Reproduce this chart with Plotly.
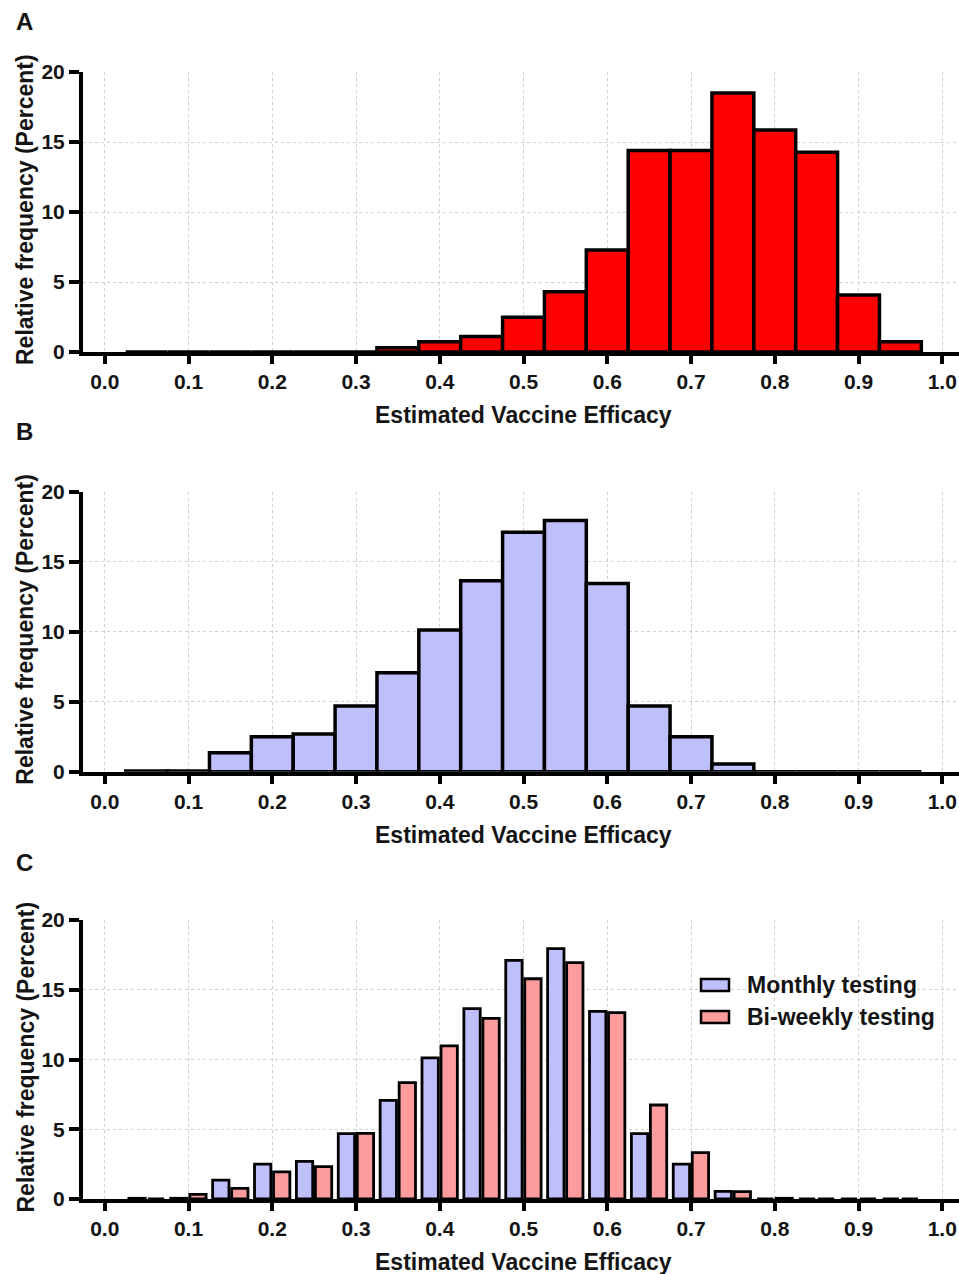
import plotly.graph_objects as go

# ---------------- data ----------------
centers = [0.05, 0.10, 0.15, 0.20, 0.25, 0.30, 0.35, 0.40, 0.45, 0.50,
           0.55, 0.60, 0.65, 0.70, 0.75, 0.80, 0.85, 0.90, 0.95]

panel_a = [0, 0, 0, 0, 0, 0, 0.3, 0.74, 1.1, 2.48,
           4.3, 7.29, 14.4, 14.4, 18.5, 15.86, 14.26, 4.07, 0.74]

monthly = [0.05, 0.05, 1.36, 2.5, 2.69, 4.69, 7.07, 10.12, 13.64, 17.1,
           17.95, 13.45, 4.69, 2.5, 0.55, 0, 0, 0, 0]

biweekly = [0, 0.33, 0.76, 1.94, 2.32, 4.7, 8.34, 10.97, 12.95, 15.79,
            16.94, 13.36, 6.74, 3.32, 0.53, 0.05, 0, 0, 0]

x_ticks = [0.0, 0.1, 0.2, 0.3, 0.4, 0.5, 0.6, 0.7, 0.8, 0.9, 1.0]
x_tick_labels = ["0.0", "0.1", "0.2", "0.3", "0.4", "0.5", "0.6", "0.7", "0.8", "0.9", "1.0"]
y_ticks = [0, 5, 10, 15, 20]

panel_letters = ["A", "B", "C"]
x_title = "Estimated Vaccine Efficacy"
y_title = "Relative frequency (Percent)"
series_names = ["Monthly testing", "Bi-weekly testing"]

# ---------------- style ----------------
FONT = "Arial, Liberation Sans, Helvetica, sans-serif"
TXT = "#141414"
RED = "#ff0000"
BLUE = "#bfbffb"
PINK = "#fc9c9c"
EDGE = "#000000"

W, H = 959, 1274
PLOT_L, PLOT_R, PLOT_T, PLOT_B = 83, 959, 72, 1199
ML, MR, MT, MB = PLOT_L, W - PLOT_R, PLOT_T, H - PLOT_B
PH = H - MT - MB
PW = W - ML - MR

def py(px):  # window px -> paper y
    return 1 - (px - PLOT_T) / PH

def px_x(px):  # window px -> paper x
    return (px - PLOT_L) / PW

domains = [
    [py(352), py(72)],
    [py(771.7), py(491.7)],
    [py(1199), py(920)],
]

fig = go.Figure()

fig.add_trace(go.Bar(x=centers, y=panel_a, width=0.05, marker=dict(color=RED, line=dict(color=EDGE, width=3.5)),
                     xaxis="x", yaxis="y", showlegend=False))
fig.add_trace(go.Bar(x=centers, y=monthly, width=0.05, marker=dict(color=BLUE, line=dict(color=EDGE, width=3.5)),
                     xaxis="x2", yaxis="y2", showlegend=False))
fig.add_trace(go.Bar(x=centers, y=monthly, width=0.0195, offset=-0.0212,
                     marker=dict(color=BLUE, line=dict(color=EDGE, width=2.8)),
                     xaxis="x3", yaxis="y3", name=series_names[0], showlegend=False))
fig.add_trace(go.Bar(x=centers, y=biweekly, width=0.0195, offset=0.0015,
                     marker=dict(color=PINK, line=dict(color=EDGE, width=2.8)),
                     xaxis="x3", yaxis="y3", name=series_names[1], showlegend=False))

tickfont = dict(family=FONT, size=21, color=TXT, weight="bold")
layout = dict(
    width=W, height=H,
    margin=dict(l=ML, r=MR, t=MT, b=MB, autoexpand=False),
    paper_bgcolor="white", plot_bgcolor="white",
    barmode="overlay",
    showlegend=False,
)

annotations = []
shapes = []
for i in range(3):
    sx = "" if i == 0 else str(i + 1)
    layout["xaxis" + sx] = dict(
        domain=[0, 1], anchor="y" + sx, range=[-0.026, 1.02], automargin=False,
        tickvals=x_ticks, ticktext=x_tick_labels, tickfont=tickfont,
        ticks="outside", ticklen=8, tickwidth=4, tickcolor=EDGE,
        showline=True, linecolor=EDGE, linewidth=4,
        showgrid=True, gridcolor="#d0d0d0", gridwidth=1, griddash="dot",
        zeroline=False, fixedrange=True,
    )
    layout["yaxis" + sx] = dict(
        domain=domains[i], anchor="x" + sx, range=[0, 20], automargin=False,
        tickvals=y_ticks, tickfont=tickfont,
        ticks="outside", ticklen=10, tickwidth=4, tickcolor=EDGE,
        showline=True, linecolor=EDGE, linewidth=4,
        showgrid=True, gridcolor="#d0d0d0", gridwidth=1, griddash="dot",
        zeroline=False, fixedrange=True,
    )
    bottom_px = [352, 771.7, 1199][i]
    top_px = [72, 491.7, 920][i]
    annotations.append(dict(text=x_title, xref="paper", yref="paper",
                            x=px_x(523), y=py(bottom_px + 63), xanchor="center", yanchor="middle",
                            showarrow=False, font=dict(family=FONT, size=23, color=TXT, weight="bold")))
    annotations.append(dict(text=y_title, xref="paper", yref="paper", textangle=-90,
                            x=px_x(25), y=py((top_px + bottom_px) / 2 - 2), xanchor="center", yanchor="middle",
                            showarrow=False, font=dict(family=FONT, size=23, color=TXT, weight="bold")))
    annotations.append(dict(text=panel_letters[i], xref="paper", yref="paper",
                            x=px_x(14), y=py([22, 432, 862][i]), xanchor="left", yanchor="middle",
                            showarrow=False, font=dict(family=FONT, size=24, color=TXT, weight="bold")))

# legend (panel C)
legend_rows = [(series_names[0], BLUE, 985), (series_names[1], PINK, 1017)]
for name, col, yc in legend_rows:
    shapes.append(dict(type="rect", xref="paper", yref="paper",
                       x0=px_x(701), x1=px_x(729), y0=py(yc + 6), y1=py(yc - 6),
                       fillcolor=col, line=dict(color=EDGE, width=2.5)))
    annotations.append(dict(text=name, xref="paper", yref="paper",
                            x=px_x(745), y=py(yc), xanchor="left", yanchor="middle",
                            showarrow=False, font=dict(family=FONT, size=23, color=TXT, weight="bold")))

layout["annotations"] = annotations
layout["shapes"] = shapes
fig.update_layout(**layout)
fig.write_html("out.html",
               config={"displayModeBar": False},
               post_script="document.body.style.margin='0';document.body.style.overflow='hidden';")
